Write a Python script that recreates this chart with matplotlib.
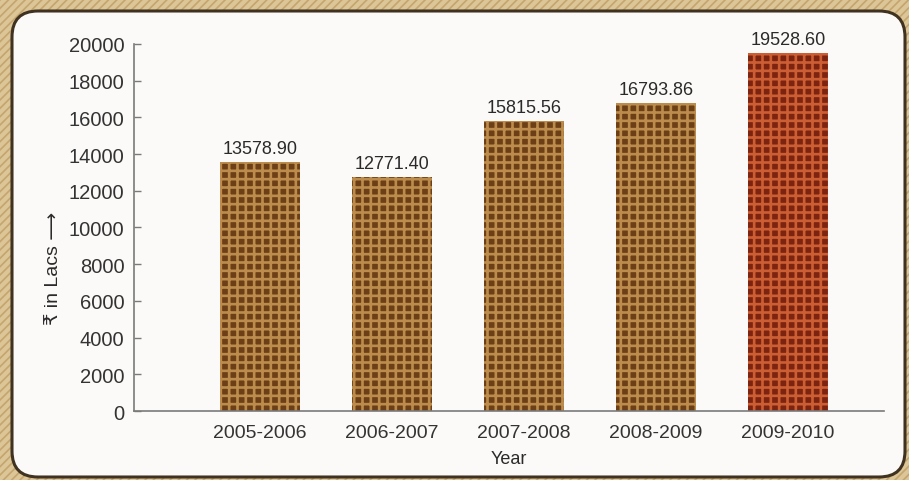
import matplotlib
matplotlib.use("Agg")
import matplotlib.pyplot as plt
from matplotlib.patches import FancyBboxPatch, Rectangle

years = ["2005-2006", "2006-2007", "2007-2008", "2008-2009", "2009-2010"]
amounts = [13578.90, 12771.40, 15815.56, 16793.86, 19528.60]
amount_labels = ["13578.90", "12771.40", "15815.56", "16793.86", "19528.60"]
y_ticks = [0, 2000, 4000, 6000, 8000, 10000, 12000, 14000, 16000, 18000, 20000]

plt.rcParams["font.family"] = ["Liberation Sans", "DejaVu Sans"]

W, H = 909, 481
fig = plt.figure(figsize=(W / 100, H / 100), dpi=100)

# Backdrop layer in pixel units: textured surround and rounded white panel
bg = fig.add_axes([0, 0, 1, 1])
bg.set_xlim(0, W)
bg.set_ylim(H, 0)
bg.axis("off")
plt.rcParams["hatch.linewidth"] = 1.2
bg.add_patch(Rectangle((0, 0), W, H, facecolor="#dcc596", edgecolor="#c4a56e",
                       hatch="////", linewidth=0))
panel = FancyBboxPatch((12 + 22, 12 + 22), 893 - 44, 466 - 44,
                       boxstyle="round,pad=22,rounding_size=26",
                       facecolor="#fcfaf8", edgecolor="#3f3220", linewidth=2.2)
bg.add_patch(panel)

ax = fig.add_axes([134 / W, 1 - 412 / H, 750 / W, 367 / H])
ax.set_facecolor("none")

x = list(range(len(years)))
plt.rcParams["hatch.linewidth"] = 1.9
bars = ax.bar(x, amounts, width=0.61, color="#6c3f17", edgecolor="#bb8c4b",
              hatch="++", linewidth=0)
bars[-1].set_facecolor("#7c2410")
bars[-1].set_edgecolor("#cc5e34")

for xi, v, lab in zip(x, amounts, amount_labels):
    ax.text(xi, v + 250, lab, ha="center", va="bottom", fontsize=13, color="#2a2a2a")

ax.set_xlim(-0.955, 4.727)
ax.set_ylim(0, 20000)
ax.set_yticks(y_ticks)
ax.set_yticklabels([str(t) for t in y_ticks])
ax.set_xticks(x)
ax.set_xticklabels(years)

for side in ("top", "right"):
    ax.spines[side].set_visible(False)
for side in ("left", "bottom"):
    ax.spines[side].set_color("#7a7a7a")
    ax.spines[side].set_linewidth(1.2)

ax.tick_params(axis="y", direction="in", length=5, width=1, color="#7a7a7a",
               labelsize=14.5, labelcolor="#333333", pad=7)
ax.tick_params(axis="x", length=0, labelsize=14, labelcolor="#333333", pad=9)

ax.set_xlabel("Year", fontsize=13, color="#2a2a2a", labelpad=7)
fig.text(53 / W, 1 - 268 / H, "₹ in Lacs ⟶", rotation=90, ha="center", va="center",
         fontsize=14, color="#2a2a2a")

fig.savefig("out.png", dpi=100)
